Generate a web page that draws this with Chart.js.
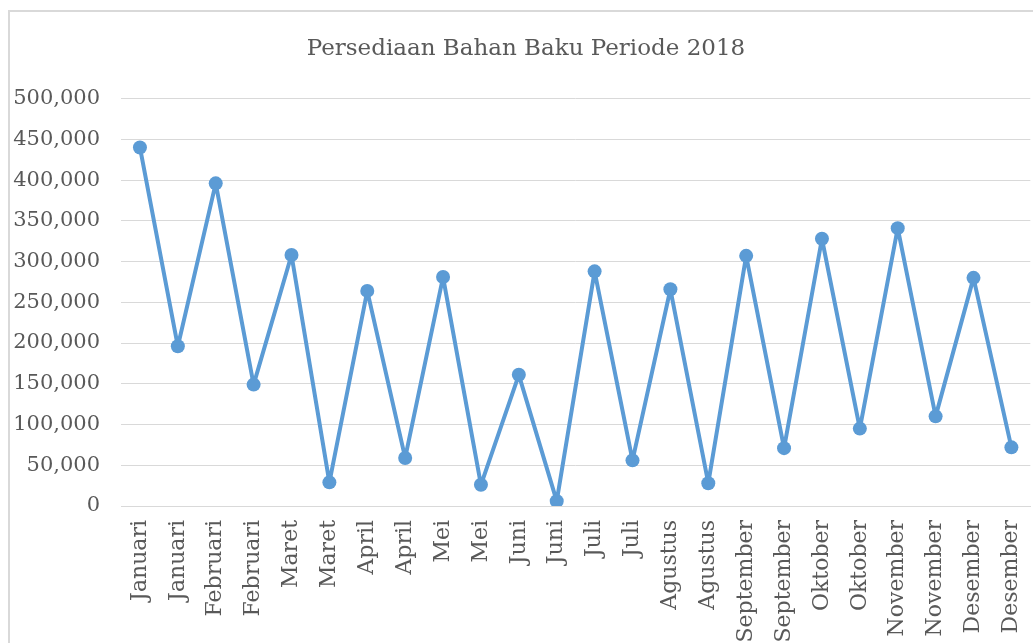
<!DOCTYPE html>
<html>
<head>
<meta charset="utf-8">
<script src="https://cdn.jsdelivr.net/npm/chart.js@4"></script>
<style>
  html, body { margin: 0; padding: 0; background: #fff; overflow: hidden; }
  #frame { position: absolute; left: 8px; top: 10px; width: 1036px; height: 640px;
           border: 2px solid #d9d9d9; box-sizing: border-box; }
  #chart { position: absolute; left: 0; top: 0; }
</style>
</head>
<body>
<div id="frame"><canvas id="chart" width="1042" height="636"></canvas></div>
<script>
// Data
const chartTitle = "Persediaan Bahan Baku Periode 2018";
const months = [
  "Januari", "Januari", "Februari", "Februari", "Maret", "Maret",
  "April", "April", "Mei", "Mei", "Juni", "Juni",
  "Juli", "Juli", "Agustus", "Agustus", "September", "September",
  "Oktober", "Oktober", "November", "November", "Desember", "Desember"
];
const stock = [
  440000, 196000, 396000, 149000, 308000, 29000,
  264000, 59000, 281000, 26000, 161000, 6000,
  288000, 56000, 266000, 28000, 307000, 71000,
  328000, 95000, 341000, 110000, 280000, 72000
];
const yTicks = [0, 50000, 100000, 150000, 200000, 250000, 300000, 350000, 400000, 450000, 500000];

const textColor = "#595959";
const gridColor = "#d9d9d9";
const fontFamily = "'DejaVu Serif', serif";

const ctx = document.getElementById("chart").getContext("2d");

new Chart(ctx, {
  type: "line",
  data: {
    labels: months,
    datasets: [{
      data: stock,
      borderColor: "#5b9bd5",
      backgroundColor: "#5b9bd5",
      borderWidth: 4,
      borderJoinStyle: "round",
      borderCapStyle: "round",
      pointRadius: 7,
      pointHoverRadius: 7,
      pointBackgroundColor: "#5b9bd5",
      pointBorderWidth: 0,
      tension: 0
    }]
  },
  options: {
    responsive: false,
    animation: false,
    layout: { padding: { top: 0, right: 10, left: 0, bottom: 0 } },
    plugins: {
      legend: { display: false },
      tooltip: { enabled: false },
      title: {
        display: true,
        text: chartTitle,
        color: textColor,
        font: { family: fontFamily, size: 23, weight: "normal" },
        padding: { top: 23, bottom: 36 }
      }
    },
    scales: {
      x: {
        offset: true,
        grid: { display: false, drawTicks: false },
        border: { color: gridColor, width: 1 },
        ticks: {
          color: textColor,
          font: { family: fontFamily, size: 22 },
          maxRotation: 90,
          minRotation: 90,
          autoSkip: false,
          padding: 14
        },
        afterFit: (scale) => { scale.height = 142; }
      },
      y: {
        min: 0,
        max: 500000,
        afterBuildTicks: (scale) => { scale.ticks = yTicks.map(v => ({ value: v })); },
        grid: { color: gridColor, lineWidth: 1, drawTicks: false },
        border: { display: false },
        ticks: {
          color: textColor,
          font: { family: fontFamily, size: 21 },
          padding: 21,
          callback: (v) => v.toLocaleString("en-US")
        },
        afterFit: (scale) => { scale.width = 111; }
      }
    }
  }
});
</script>
</body>
</html>
